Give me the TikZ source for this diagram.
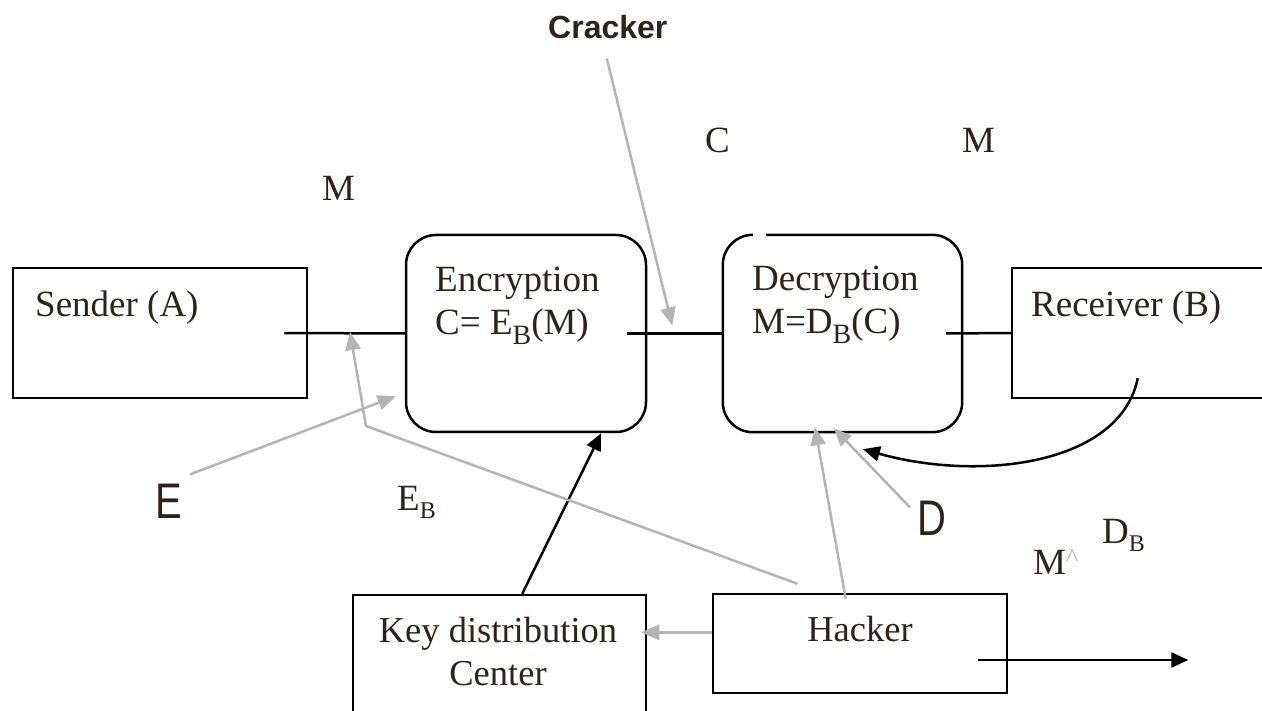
\documentclass[tikz,border=0pt]{standalone}
\usepackage{fontspec}
\setmainfont{Liberation Serif}
\newfontfamily\sansf{Liberation Sans}
\usepackage{graphicx}
\usetikzlibrary{arrows.meta,calc}
\definecolor{ink}{RGB}{46,35,25}
\definecolor{lgray}{RGB}{180,180,180}
\newcommand\lsub[1]{\raisebox{-10pt}{\fontsize{28}{30}\selectfont #1}}
\newcommand\ssub[1]{\raisebox{-8pt}{\fontsize{24}{26}\selectfont #1}}
\tikzset{
  box/.style={draw=black, line width=2.5pt, inner sep=0pt},
  rbox/.style={box, rounded corners=30pt},
  txt/.style={anchor=base west, inner sep=0pt, text=ink, font=\fontsize{37}{44}\selectfont},
  ctxt/.style={anchor=base, inner sep=0pt, text=ink, font=\fontsize{36.5}{44}\selectfont},
  big/.style={anchor=base west, inner sep=0pt, text=ink, font=\sansf\fontsize{50}{56}\selectfont},
  crk/.style={anchor=base west, inner sep=0pt, text=ink, font=\sansf\bfseries\fontsize{32}{36}\selectfont},
  wire/.style={line width=2.5pt, draw=black},
  blackarrow/.style={wire, -{Triangle[length=17pt,width=15pt]}},
  grayarrow/.style={line width=2.5pt, draw=lgray, -{Triangle[length=18pt,width=15pt]}},
}
\begin{document}
\begin{tikzpicture}[x=1pt,y=-1pt]
\useasboundingbox (0,0) rectangle (1262,711);
\clip (0,0) rectangle (1262,711);
\fill[white] (0,0) rectangle (1262,711);
% boxes
\node[box, minimum width=294pt, minimum height=130pt] (snd) at (160,333) {};
\node[rbox, minimum width=240pt, minimum height=197pt] (enc) at (526,333.5) {};
\node[inner sep=0pt, minimum width=239pt, minimum height=197pt] (dec) at (842.5,333.5) {};
\draw[wire, rounded corners=30pt] ($(dec.north west)+(43,0)$) -- (dec.north east) -- (dec.south east) -- (dec.south west) -- (dec.north west) -- ($(dec.north west)+(29,0)$);
\node[box, minimum width=280pt, minimum height=130pt] (rec) at (1152,333) {};
\node[box, minimum width=293pt, minimum height=140pt] (kdc) at (499.5,665) {};
\node[box, minimum width=294pt, minimum height=99pt] (hack) at (860,643.5) {};
% texts
\node[txt] (tsnd) at (35,317) {Sender (A)};
\node[txt] (tenc1) at (435,292) {Encryption};
\node[txt] (tenc2) at (435,335) {C= E\lsub{B}(M)};
\node[txt] (tdec1) at (752,291) {Decryption};
\node[txt] (tdec2) at (752,334) {M=D\lsub{B}(C)};
\node[txt] (trec) at (1031,317) {Receiver (B)};
\node[ctxt] (thack) at (860,641) {Hacker};
\node[ctxt] (tkdc1) at (498,642) {Key distribution};
\node[ctxt] (tkdc2) at (498,685) {Center};
\node[txt] (lc) at (705,153) {C};
\node[txt] (lm1) at (962,153) {M};
\node[txt] (lm2) at (322,201) {M};
\node[txt] (leb) at (397,510) {E\ssub{B}};
\node[txt] (ldb) at (1102,543) {D\ssub{B}};
\node[txt] (lmh) at (1033,574) {M\raisebox{8pt}{\textcolor{lgray}{\fontsize{26}{28}\selectfont\textasciicircum}}};
\node[big] (le) at (155,518) {\scalebox{0.8}[1]{E}};
\node[big] (ld) at (917,535) {\scalebox{0.8}[1]{D}};
\node[crk] (lcr) at (548,39) {Cracker};
% coordinates
\coordinate (hk) at ($(hack.north west)!0.39!(hack.south west)$);
\coordinate (bend) at (366,426);
\coordinate (tapE) at (350,332);
\coordinate (wc) at ($(enc.east)+(25,-8)$);
% wires
\draw[wire] ($(snd.east)+(-24,0)$) -- (enc.west);
\draw[wire] ($(enc.east)+(-20,0)$) -- (dec.west);
\draw[wire] ($(dec.east)+(-16,0)$) -- (rec.west);
% arrows
\draw[blackarrow] ($(kdc.north west)!0.577!(kdc.north east)$) -- ($(enc.south west)!0.81!(enc.south east)$);
\draw[grayarrow, shorten >=-6pt] (hk) -- (hk -| kdc.east);
\draw[grayarrow] ($(hack.north west)!0.452!(hack.north east)+(0,6)$) -- ($(dec.south west)!0.385!(dec.south east)+(0,-5)$);
\draw[grayarrow] ($(hack.north west)!0.289!(hack.north east)+(0,-9)$) -- (bend) -- (tapE);
\draw[grayarrow] ($(le.north east)+(8,-9)$) -- ($(enc.south west)+(-9,-37)$);
\draw[grayarrow] ($(ld.north west)+(-7,7)$) -- ($(dec.south west)!0.464!(dec.south east)+(0,-4)$);
\draw[grayarrow] ($(lcr.south)+(-1,19)$) -- (wc);
\draw[blackarrow] ($(rec.south west)+(127,-21)$) .. controls (1120,465) and (980,482) .. ($(dec.south west)!0.585!(dec.south east)+(0,17)$);
\draw[blackarrow] ($(hack.east)+(-30,16.5)$) -- ++(210,0);
\end{tikzpicture}
\end{document}
